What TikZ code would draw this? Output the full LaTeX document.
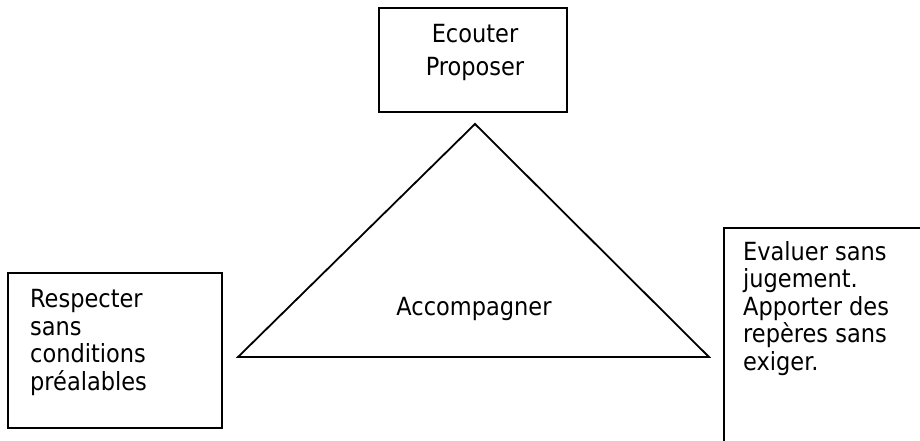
\documentclass[tikz,border=0pt]{standalone}
\usepackage{fontspec}
\setmainfont{DejaVu Sans Condensed}
\begin{document}
\begin{tikzpicture}[x=1pt,y=-1pt,
  line/.style={draw=black,line width=1.8pt},
  txt/.style={inner sep=0pt,align=left,font=\fontsize{25}{27.5}\selectfont},
  toptxt/.style={inner sep=0pt,align=center,font=\fontsize{25}{33}\selectfont}]
\useasboundingbox (0,0) rectangle (920,441);
% boxes
\draw[line] (379,8) rectangle (567,112);
\draw[line] (8,273) rectangle (222,428);
\draw[line] (724,228) rectangle (930,450);
% triangle
\coordinate (apex) at (475,124);
\coordinate (bl) at (238,357);
\coordinate (br) at (709,357);
\draw[line, line join=miter] (apex) -- (bl) -- (br) -- cycle;
% texts
\node[toptxt, anchor=base] (top) at (475,76) {Ecouter\\Proposer};
\node[txt, anchor=base west] (left) at (30,390) {Respecter\\sans\\conditions\\préalables};
\node[txt, anchor=base west] (right) at (743,370) {Evaluer sans\\jugement.\\Apporter des\\repères sans\\exiger.};
\node[txt, anchor=base] (mid) at (474,315) {Accompagner};
\end{tikzpicture}
\end{document}
